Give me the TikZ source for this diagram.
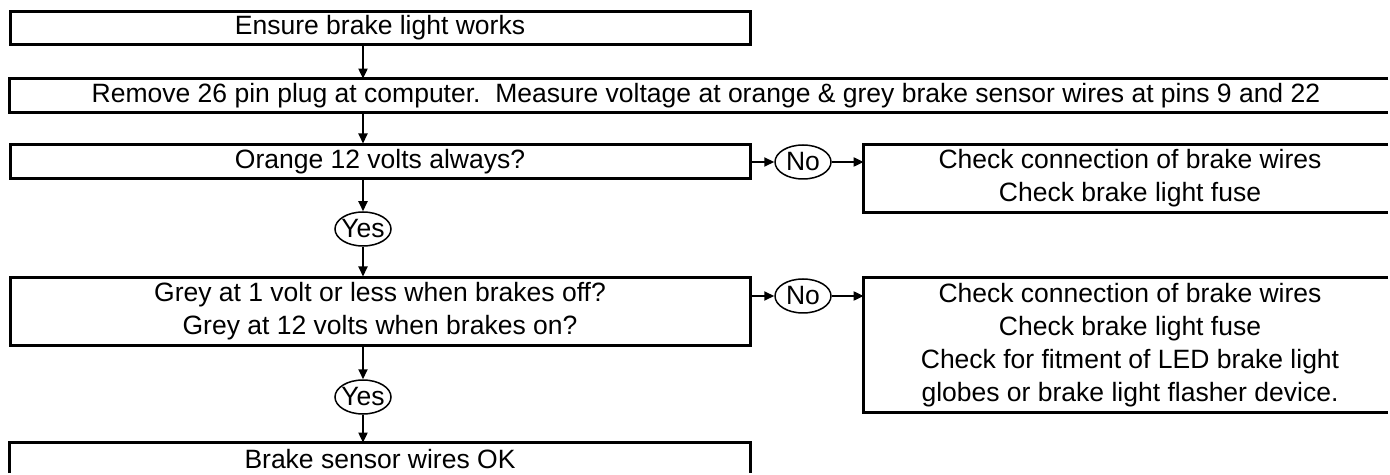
\documentclass[tikz,border=0pt]{standalone}
\usepackage{fontspec}
\setmainfont{Liberation Sans}
\usetikzlibrary{shapes.geometric,arrows.meta}

\begin{document}
\begin{tikzpicture}[x=0.5pt, y=-0.5pt,
    every node/.style={font=\fontsize{13.25pt}{16.5pt}\selectfont},
    openbox/.style={inner sep=0pt, minimum height=16.5pt, align=center},
    box/.style={openbox, draw, line width=1.5pt},
    wide/.style={box, minimum width=370pt},
    side/.style={openbox, minimum width=266pt},
    edge/.style={line width=1.5pt},
    answer/.style={draw, ellipse, line width=0.75pt, inner xsep=-1.5pt, inner ysep=-0.5pt,
        minimum width=28pt, minimum height=17pt},
    arr/.style={line width=1pt, -{Triangle[length=5pt, width=4.5pt]}}]
    \useasboundingbox (0,0) rectangle (1390,475);
    % Main column
    \node[wide] (works) at (380,28) {Ensure brake light works};
    \node[openbox, minimum width=696pt] (measure) at (706,95.5) {Remove 26 pin plug at computer.\ \ Measure voltage at orange \& grey brake sensor wires at pins 9 and 22};
    \node[wide, minimum height=17pt] (orange) at (380,162) {Orange 12 volts always?};
    \node[wide, minimum height=33.5pt] (grey) at (380,311.5) {Grey at 1 volt or less when brakes off?\\Grey at 12 volts when brakes on?};
    \node[openbox, minimum width=370pt, minimum height=16pt] (ok) at (380,459) {Brake sensor wires OK};
    % Answers
    \node[answer] (yes1) at (363,229) {Yes};
    \node[answer] (yes2) at (363,397) {Yes};
    \node[answer] (no1) at (803,162) {No};
    \node[answer] (no2) at (803,296) {No};
    % Fixes
    \node[side, minimum height=33.5pt] (fix1) at (1130,178.5) {Check connection of brake wires\\Check brake light fuse};
    \node[side, minimum height=67pt] (fix2) at (1130,345) {Check connection of brake wires\\Check brake light fuse\\Check for fitment of LED brake light\\globes or brake light flasher device.};
    % Open sides, cut by the page
    \coordinate (rim) at (1388,473);
    \draw[edge] (measure.north west -| rim) -- (measure.north west) -- (measure.south west) -- (measure.south west -| rim);
    \draw[edge] (fix1.north west -| rim) -- (fix1.north west) -- (fix1.south west) -- (fix1.south west -| rim);
    \draw[edge] (fix2.north west -| rim) -- (fix2.north west) -- (fix2.south west) -- (fix2.south west -| rim);
    \draw[edge] (ok.north west |- rim) -- (ok.north west) -- (ok.north east) -- (ok.north east |- rim);
    \coordinate (spine) at (363,0);
    % Arrows
    \draw[arr] (works.south -| spine) -- (measure.north -| spine);
    \draw[arr] (measure.south -| spine) -- (orange.north -| spine);
    \draw[arr] (orange.south -| spine) -- (yes1);
    \draw[arr] (yes1) -- (grey.north -| spine);
    \draw[arr] (grey.south -| spine) -- (yes2);
    \draw[arr] (yes2) -- (ok.north -| spine);
    \draw[arr] (orange.east) -- (no1);
    \draw[arr] (no1) -- (no1 -| fix1.west);
    \draw[arr] (no2 -| grey.east) -- (no2);
    \draw[arr] (no2) -- (no2 -| fix2.west);
\end{tikzpicture}
\end{document}
